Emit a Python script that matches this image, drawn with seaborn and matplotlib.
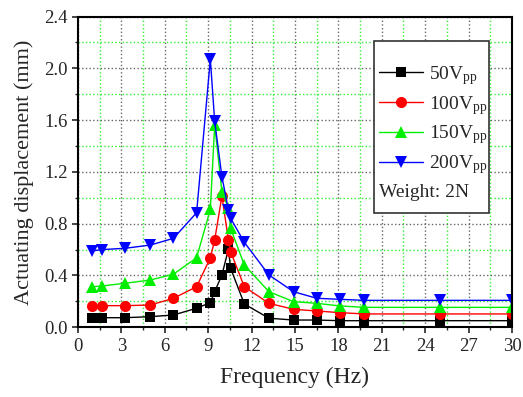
import pandas as pd
import seaborn as sns
import matplotlib.pyplot as plt
import matplotlib.ticker as mtick
from matplotlib.patches import Rectangle

# frequency points (Hz)
freq = [1.0, 1.65, 3.25, 5.0, 6.6, 8.2, 9.15, 9.45, 9.95, 10.4, 10.55,
        11.5, 13.2, 14.9, 16.5, 18.1, 19.8, 25.0, 30.0]

# actuating displacement (mm)
disp_50v = [0.074, 0.074, 0.074, 0.082, 0.095, 0.147, 0.19, 0.275, 0.404, 0.602, 0.456,
            0.18, 0.07, 0.056, 0.056, 0.051, 0.051, 0.051, 0.051]
disp_100v = [0.167, 0.167, 0.167, 0.172, 0.224, 0.313, 0.537, 0.674, 1.014, 0.674, 0.584,
             0.313, 0.185, 0.139, 0.126, 0.113, 0.103, 0.103, 0.103]
disp_150v = [0.313, 0.319, 0.34, 0.365, 0.41, 0.537, 0.911, 1.562, 1.047, 0.92, 0.764,
             0.481, 0.275, 0.198, 0.185, 0.165, 0.154, 0.154, 0.154]
disp_200v = [0.59, 0.60, 0.61, 0.635, 0.687, 0.885, 2.07, 1.59, 1.163, 0.906, 0.842,
             0.656, 0.404, 0.275, 0.224, 0.216, 0.208, 0.208, 0.208]

labels = [r'50V$_{\mathrm{pp}}$', r'100V$_{\mathrm{pp}}$',
          r'150V$_{\mathrm{pp}}$', r'200V$_{\mathrm{pp}}$']
series = [disp_50v, disp_100v, disp_150v, disp_200v]
colors = ['#000000', '#ff0000', '#00ee00', '#0000ff']
markers = ['s', 'o', '^', 'v']
msizes = [7, 8, 8.5, 8.5]

sns.set_style('ticks')
plt.rcParams['font.family'] = ['Liberation Serif', 'DejaVu Serif']
plt.rcParams['mathtext.fontset'] = 'custom'
plt.rcParams['mathtext.rm'] = 'Liberation Serif'
plt.rcParams['mathtext.it'] = 'Liberation Serif:italic'

fig = plt.figure(figsize=(5.23, 3.97), dpi=100)
ax = fig.add_axes([0.1491, 0.1756, 0.8298, 0.7828])

for vals, lab, col, mk, ms in zip(series, labels, colors, markers, msizes):
    df = pd.DataFrame({'Frequency': freq, 'Displacement': vals})
    sns.lineplot(data=df, x='Frequency', y='Displacement', ax=ax, color=col,
                 marker=mk, markersize=ms, markeredgewidth=0, linewidth=1.0,
                 label=lab, sort=False)

ax.set_xlim(0, 30)
ax.set_ylim(0, 2.4)
ax.xaxis.set_major_locator(mtick.MultipleLocator(3))
ax.xaxis.set_minor_locator(mtick.MultipleLocator(1.5))
ax.yaxis.set_major_locator(mtick.MultipleLocator(0.4))
ax.yaxis.set_minor_locator(mtick.MultipleLocator(0.2))
ax.yaxis.set_major_formatter(mtick.FormatStrFormatter('%.1f'))

ax.set_axisbelow(True)
ax.grid(which='major', color='#666666', linestyle=':', linewidth=1.0)
ax.grid(which='minor', color='#33ee33', linestyle=':', linewidth=1.0)

for s in ax.spines.values():
    s.set_linewidth(1.5)
    s.set_color('black')

ax.tick_params(which='major', direction='out', length=4.5, width=1.2, labelsize=13.5, pad=3)
ax.tick_params(which='minor', direction='out', length=2.5, width=1.0)

ax.set_xlabel('Frequency (Hz)', fontsize=17, labelpad=9)
ax.set_ylabel('Actuating displacement (mm)', fontsize=16, labelpad=7)

handles, labs = ax.get_legend_handles_labels()
leg = ax.legend(handles, labs, loc='upper left', bbox_to_anchor=(0.694, 0.848),
                frameon=False, fontsize=14, handlelength=2.27, handletextpad=0.3,
                labelspacing=0.36, borderpad=0, borderaxespad=0)

ax.add_patch(Rectangle((0.682, 0.368), 0.265, 0.554, transform=ax.transAxes,
                       facecolor='white', edgecolor='#333333', linewidth=1.2, zorder=4))
leg.set_zorder(5)
ax.text(0.694, 0.433, 'Weight: 2N', transform=ax.transAxes, fontsize=14,
        va='center', ha='left', zorder=6)

fig.savefig('out.png', dpi=100)
